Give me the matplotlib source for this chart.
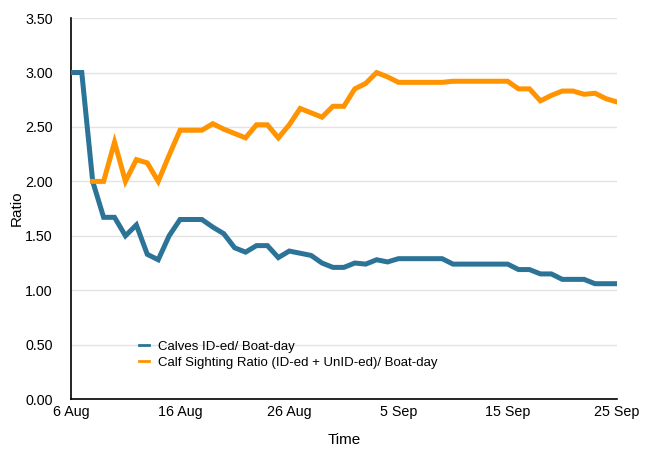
import matplotlib
matplotlib.use("Agg")
import matplotlib.pyplot as plt
import numpy as np
import pandas as pd

plt.rcParams['font.family'] = ['Liberation Sans', 'DejaVu Sans']

dates = pd.date_range('2014-08-06', '2014-09-25', freq='D')

calves_ided = [3.00, 3.00, 2.00, 1.67, 1.67, 1.50, 1.60, 1.33, 1.28, 1.50,
               1.65, 1.65, 1.65, 1.58, 1.52, 1.39, 1.35, 1.41, 1.41, 1.30,
               1.36, 1.34, 1.32, 1.25, 1.21, 1.21, 1.25, 1.24, 1.28, 1.26,
               1.29, 1.29, 1.29, 1.29, 1.29, 1.24, 1.24, 1.24, 1.24, 1.24,
               1.24, 1.19, 1.19, 1.15, 1.15, 1.10, 1.10, 1.10, 1.06, 1.06,
               1.06]

calf_sighting = [np.nan, np.nan, 2.00, 2.00, 2.36, 2.00, 2.20, 2.17, 2.00, 2.24,
                 2.47, 2.47, 2.47, 2.53, 2.48, 2.44, 2.40, 2.52, 2.52, 2.40,
                 2.52, 2.67, 2.63, 2.59, 2.69, 2.69, 2.85, 2.90, 3.00, 2.96,
                 2.91, 2.91, 2.91, 2.91, 2.91, 2.92, 2.92, 2.92, 2.92, 2.92,
                 2.92, 2.85, 2.85, 2.74, 2.79, 2.83, 2.83, 2.80, 2.81, 2.76,
                 2.73]

series_labels = ['Calves ID-ed/ Boat-day',
                 'Calf Sighting Ratio (ID-ed + UnID-ed)/ Boat-day']
tick_dates = ['2014-08-06', '2014-08-16', '2014-08-26', '2014-09-05',
              '2014-09-15', '2014-09-25']
tick_labels = ['6 Aug', '16 Aug', '26 Aug', '5 Sep', '15 Sep', '25 Sep']
y_ticks = [0.0, 0.5, 1.0, 1.5, 2.0, 2.5, 3.0, 3.5]

blue = '#2c7398'
orange = '#ff9300'

fig = plt.figure(figsize=(6.5, 4.53), dpi=100)
ax = fig.add_axes([0.109, 0.119, 0.84, 0.841])

ax.plot(dates, calves_ided, color=blue, lw=3.6, label=series_labels[0],
        solid_joinstyle='miter', zorder=3)
ax.plot(dates, calf_sighting, color=orange, lw=3.6, label=series_labels[1],
        solid_joinstyle='miter', zorder=3)

ax.set_ylim(0, 3.5)
ax.set_xlim(dates[0], dates[-1])
ax.set_yticks(y_ticks)
ax.set_yticklabels([f'{v:.2f}' for v in y_ticks])
ax.set_xticks(pd.to_datetime(tick_dates))
ax.set_xticklabels(tick_labels)
ax.tick_params(length=0, labelsize=10.3, colors='black')
ax.tick_params(axis='y', pad=13)
ax.tick_params(axis='x', pad=4)

ax.grid(axis='y', color='#e3e3e3', lw=1.0, zorder=0)
ax.set_axisbelow(True)
for s in ['top', 'right']:
    ax.spines[s].set_visible(False)
for s in ['left', 'bottom']:
    ax.spines[s].set_color('black')
    ax.spines[s].set_linewidth(1.2)

ax.set_xlabel('Time', fontsize=11, labelpad=10)
ax.set_ylabel('Ratio', fontsize=11, labelpad=1)

leg = ax.legend(loc='upper left', bbox_to_anchor=(0.115, 0.168), frameon=False,
                fontsize=9.5, handlelength=0.75, handletextpad=0.7,
                labelspacing=0.3, borderaxespad=0)
for h in leg.get_lines():
    h.set_linewidth(2)

fig.savefig('out.png', dpi=100, facecolor='white')
